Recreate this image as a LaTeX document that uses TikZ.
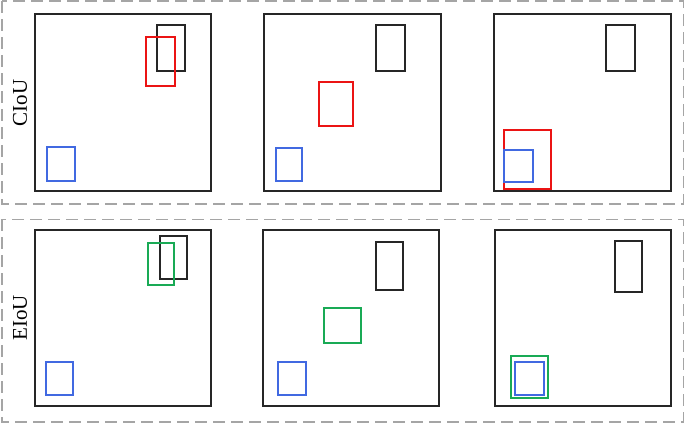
\documentclass[tikz,border=0pt]{standalone}
\usepackage{fontspec}
\setmainfont{Liberation Serif}
\definecolor{boxred}{RGB}{235,20,20}
\definecolor{boxblue}{RGB}{65,105,225}
\definecolor{boxgreen}{RGB}{25,170,85}
\definecolor{framegray}{RGB}{165,165,165}

\begin{document}
\begin{tikzpicture}[x=1pt,y=-1pt,line join=miter,
    panel/.style={draw=black!85,line width=2pt},
    target/.style={draw=black!85,line width=2pt},
    anchorbox/.style={draw=boxblue,line width=2pt},
    ciou/.style={draw=boxred,line width=2pt},
    eiou/.style={draw=boxgreen,line width=2pt},
    group/.style={draw=framegray,line width=1.6pt,dash pattern=on 12pt off 6pt},
    rowlabel/.style={rotate=90,font=\fontsize{21}{24}\selectfont,inner sep=0pt}]

    \useasboundingbox (0,0) rectangle (685,424);

    % 两组虚线框
    \draw[group] (1.7,1) rectangle (683.5,203.7);
    \draw[group] (1.7,219.3) rectangle (683.5,421.7);

    % 行标签
    \node[rowlabel] (ciouLabel) at (20,103) {CIoU};
    \node[rowlabel] (eiouLabel) at (20,318) {EIoU};

    % 1. CIoU 一行
    \draw[panel] (35,14.3) rectangle (211,190.7);
    \draw[target] (156.7,25.3) rectangle (185.3,71.3);
    \draw[ciou] (146.3,37) rectangle (175.3,86.3);
    \draw[anchorbox] (47,146.7) rectangle (75.3,181);

    \draw[panel] (264.3,14.3) rectangle (440.7,190.7);
    \draw[target] (376,25.3) rectangle (404.7,71.3);
    \draw[ciou] (319,81.7) rectangle (353,126.3);
    \draw[anchorbox] (276.3,148) rectangle (301.7,181);

    \draw[panel] (494,14.3) rectangle (670.7,190.7);
    \draw[target] (605.7,25.3) rectangle (634.7,71.3);
    \draw[ciou] (504,130) rectangle (550.7,189.3);
    \draw[anchorbox] (504.3,149.7) rectangle (532.7,182.3);

    % 2. EIoU 一行
    \draw[panel] (35,230) rectangle (211,406);
    \draw[target] (160,235.7) rectangle (187.3,279);
    \draw[eiou] (147.7,243) rectangle (174.3,284.7);
    \draw[anchorbox] (45.7,361.7) rectangle (73.3,394.7);

    \draw[panel] (262.7,230) rectangle (439.3,406);
    \draw[target] (375.7,242.3) rectangle (402.7,289.7);
    \draw[eiou] (324.3,308) rectangle (361.3,343.3);
    \draw[anchorbox] (278.3,361.7) rectangle (306,394.7);

    \draw[panel] (494.7,230.3) rectangle (671.3,406);
    \draw[target] (615.3,241.3) rectangle (642.3,292);
    \draw[eiou] (510.7,355.7) rectangle (548.3,398);
    \draw[anchorbox] (514.7,362) rectangle (544.3,394.7);

\end{tikzpicture}
\end{document}
